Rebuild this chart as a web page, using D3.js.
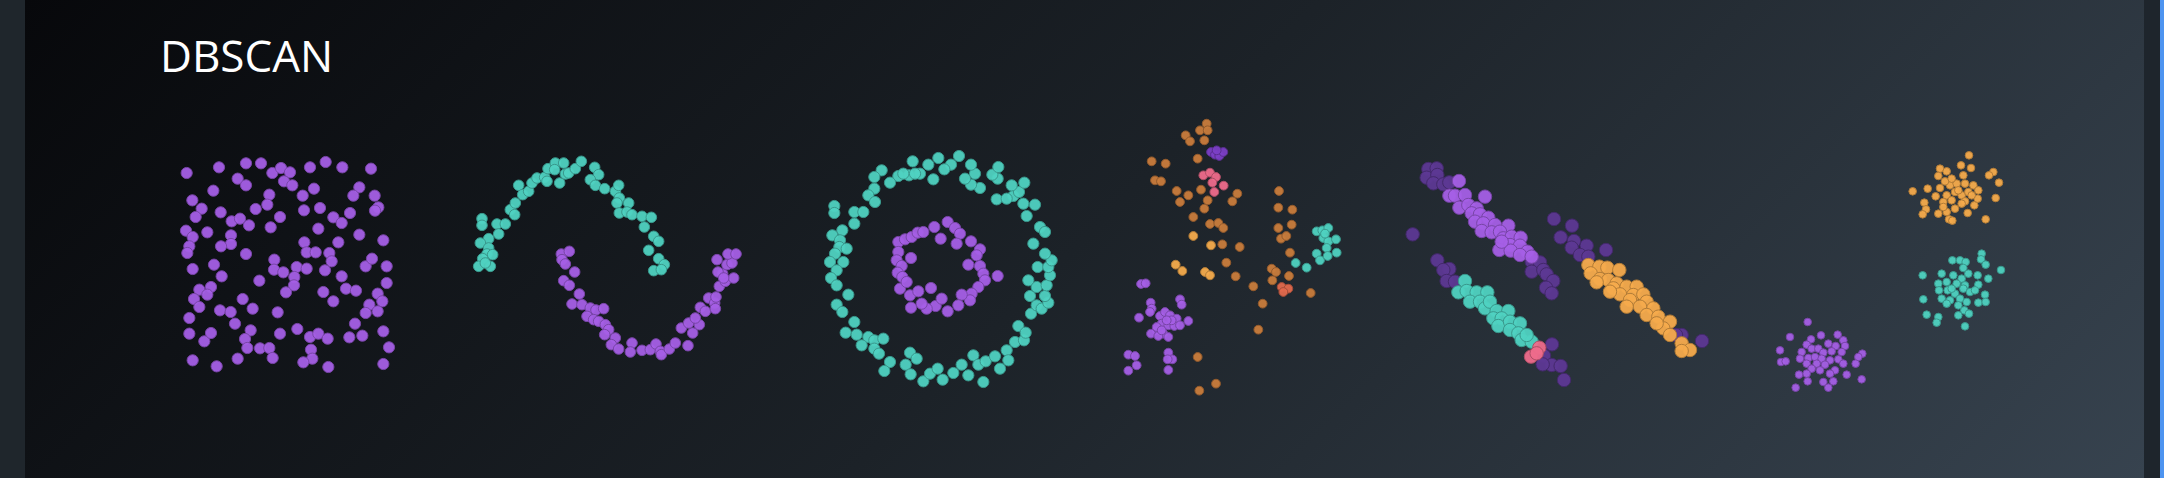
<!DOCTYPE html>
<html><head><meta charset="utf-8">
<script src="https://cdn.jsdelivr.net/npm/d3@7"></script>
<style>
html,body{margin:0;padding:0;background:#1f262c;}
#wrap{position:relative;width:2164px;height:478px;overflow:hidden;}
</style></head><body>
<div id="wrap"></div>
<script>
// ---- DATA (panel-local coordinates) ----
const title = "DBSCAN";

const uniformPurple = [[50,75],[147,58],[228,46],[273,46],[307,75],[333,60],[360,73],[342,100],[367,112],[420,58],[467,42],[517,58],[603,62],
[203,92],[228,112],[130,128],[298,140],[292,170],[257,183],[398,143],[432,122],[568,118],[550,143],[614,143],[625,178],[615,188],
[67,157],[95,182],[77,207],[152,193],[185,220],[210,212],[237,232],[302,238],[330,207],[402,187],[450,180],[490,208],[515,225],[540,195],[445,242],
[48,248],[68,267],[112,253],[183,262],[183,288],[153,295],[58,295],[52,315],[228,318],[403,283],[410,313],[437,313],[478,315],[485,340],[505,283],[568,260],[640,277],
[68,363],[132,350],[155,385],[268,398],[313,335],[312,365],[340,373],[380,357],[410,362],[373,387],[372,412],[348,433],[465,367],[515,385],[587,355],[606,332],[650,355],[650,405],
[88,425],[123,417],[112,440],[72,453],[88,477],[218,453],[248,482],[150,487],[182,492],[195,527],[323,493],[460,432],[490,460],[528,422],[558,428],[623,437],[637,460],[598,470],[587,495],[623,490],
[58,510],[58,557],[103,580],[123,555],[242,547],[225,573],[232,600],[270,601],[298,600],[308,630],[330,557],[382,543],[420,567],[445,557],[473,572],[423,605],[427,632],[400,643],[538,568],[577,563],[555,527],[640,550],[657,598],
[68,637],[140,655],[203,632],[475,657],[640,648]];

const moonsTeal = [[60,212],[60,232],[105,228],[130,228],[110,258],[80,272],[55,285],[80,300],[75,318],[92,320],[62,332],[50,355],[85,355],[70,345],
[145,185],[160,165],[158,200],[170,112],[182,140],[200,130],[210,105],[225,90],[248,88],[258,62],[280,45],[278,65],[305,45],[310,78],[320,75],[340,62],[358,40],[293,105],[255,100],
[398,58],[410,80],[385,95],[400,112],[428,122],[460,130],[470,112],[472,150],[465,165],[500,165],[472,195],[495,192],[510,200],[540,205],[568,208],[547,237],[575,265],[590,280],[560,307],[590,332],[607,350],[575,368],[598,365]];
const moonsPurple = [[298,318],[322,310],[300,335],[310,348],[338,372],[305,398],[322,412],[352,438],[330,468],[360,470],[385,480],[402,486],[425,482],[375,505],[395,515],[410,520],[430,530],[440,545],[428,560],[460,570],[448,590],[470,603],[510,585],[505,612],[540,607],[565,605],[582,588],[595,610],[598,620],[622,603],[640,585],[678,593],[658,540],[692,555],[680,525],[712,530],[700,510],[715,478],[730,490],[740,450],[758,465],[760,482],[762,447],[772,415],[790,400],[815,390],[782,378],[768,372],[765,335],[795,350],[810,345],[798,318],[822,318],[785,390]];

const circlesTeal = [[58,192],[58,213],[118,210],[145,210],[118,245],[82,265],[52,280],[75,295],[73,315],[95,320],[60,335],[45,360],[85,360],[65,385],[48,408],[65,430],[100,458],[65,488],[82,510],[118,540],[92,572],[125,578],[160,585],[140,610],[178,595],[205,590],[178,620],[192,635],[225,660],[208,687],[285,632],[305,650],[272,668],[287,697],[325,718],[345,695],[368,680],[383,713],[415,693],[440,668],[460,700],[475,640],[490,668],[505,720],[512,658],[540,643],[555,680],[575,625],[580,655],[600,600],[627,595],[610,552],[632,572],[648,515],[665,490],[645,462],[680,500],[700,482],[690,462],[665,435],[640,415],[695,430],[705,400],[668,375],[700,375],[710,355],[690,335],[655,305],[635,222],[675,255],[690,270],[660,188],[625,185],[595,162],[612,150],[628,122],[590,130],[545,172],[575,170],[548,110],[532,98],[550,75],[495,138],[468,128],[480,95],[468,68],[450,110],[432,42],[408,68],[388,82],[370,48],[340,68],[355,112],[315,95],[293,58],[282,100],[250,102],[225,122],[200,85],[178,105],[178,140],[160,160],[180,180],[265,95],[300,95]];
const circlesPurple = [[250,300],[270,292],[290,285],[308,272],[325,270],[358,255],[398,240],[420,258],[435,275],[377,290],[425,305],[468,298],[495,322],[485,340],[460,368],[495,372],[505,395],[510,415],[490,435],[470,455],[465,475],[440,458],[430,490],[398,508],[362,492],[335,500],[320,485],[288,497],[285,460],[310,448],[348,438],[380,470],[250,330],[245,355],[260,372],[248,392],[262,405],[255,440],[275,420],[288,348],[548,402]];

const variedBrown = [[275,35],[255,55],[278,55],[212,70],[225,88],[268,85],[248,140],[110,148],[152,155],[120,205],[138,208],[185,237],[220,250],[258,233],[195,270],[278,265],[268,290],[235,315],[285,336],[310,333],[325,348],[352,268],[367,245],[322,397],[374,405],[334,452],[362,493],[415,523],[443,575],[430,653],[248,735],[303,815],[253,836],[492,237],[490,287],[532,293],[490,348],[530,338],[498,380],[514,372],[525,422],[470,470],[483,480],[472,505],[522,492],[587,543]];
const variedGold = [[235,372],[288,400],[182,458],[202,477],[270,480],[285,490]];
const variedPink = [[265,190],[285,182],[303,195],[292,212],[326,221],[298,240]];
const variedViolet = [[288,120],[300,128],[313,132],[325,120],[305,115]];
const variedRed = [[500,525],[520,530],[505,540]];
const variedTeal = [[605,358],[622,355],[640,348],[625,378],[640,388],[663,382],[635,408],[605,425],[615,445],[638,432],[665,422],[542,453],[575,467],[630,365]];
const variedPurple = [[78,516],[92,514],[107,572],[110,590],[105,600],[72,617],[195,562],[200,578],[220,627],[135,612],[150,600],[165,610],[185,620],[140,635],[160,640],[178,642],[125,655],[108,665],[145,665],[160,675],[130,672],[195,640],[170,625],[155,625],[40,728],[60,732],[65,760],[40,776],[160,722],[172,742],[158,742],[160,774],[125,645],[140,655]];

const anisoNoise = [[85,42],[110,40],[80,68],[112,60],[100,85],[130,88],[148,82],[38,238],[462,192],[516,212],[482,247],[522,258],[560,272],[515,278],[540,300],[565,305],[618,285],[395,320],[420,322],[395,350],[430,345],[440,358],[460,378],[438,398],[455,415],[112,316],[148,342],[130,345],[140,378],[165,380],[456,568],[432,602],[455,630],[428,628],[482,633],[492,675],[845,540],[828,540],[906,558]];
const anisoPurple = [[177,78],[148,122],[165,122],[195,120],[255,125],[178,158],[205,150],[230,160],[215,175],[240,178],[265,188],[225,200],[250,205],[285,210],[325,212],[245,228],[275,232],[300,230],[310,250],[335,245],[362,248],[330,270],[360,272],[382,290],[298,285],[332,287],[360,300],[395,305],[305,260]];
const anisoTeal = [[195,378],[175,412],[200,408],[230,412],[262,412],[210,440],[240,440],[255,460],[270,440],[290,468],[325,468],[280,490],[305,490],[295,513],[330,500],[360,505],[330,525],[355,535],[365,555],[395,560],[380,540]];
const anisoPink = [[393,605],[418,578],[410,595]];
const anisoGold = [[565,330],[598,335],[622,338],[658,345],[572,355],[600,372],[625,375],[650,385],[590,382],[640,400],[680,395],[710,395],[660,418],[700,420],[730,418],[630,410],[690,435],[740,440],[720,455],[760,460],[740,480],[775,485],[810,500],[790,520],[810,540],[845,565],[870,585],[845,588],[770,505],[680,455]];

const blobsGold = [[612,40],[525,80],[545,88],[588,70],[618,78],[520,102],[595,100],[685,90],[672,100],[488,140],[443,148],[525,138],[555,130],[575,125],[540,118],[600,125],[625,130],[640,145],[570,150],[590,160],[545,160],[512,163],[535,180],[560,175],[600,178],[628,190],[638,170],[692,168],[702,122],[478,182],[483,202],[473,217],[520,215],[545,210],[552,232],[570,200],[608,213],[562,236],[662,232],[535,195],[580,145],[610,150],[560,110],[590,185],[620,160]];
const blobsTeal = [[650,335],[648,352],[662,368],[708,384],[562,355],[585,355],[602,360],[595,378],[610,395],[638,400],[670,410],[473,400],[530,395],[565,400],[590,410],[520,425],[545,420],[575,425],[600,430],[640,428],[522,445],[548,445],[570,455],[595,440],[615,450],[660,458],[475,472],[530,470],[555,475],[585,470],[605,480],[640,482],[662,480],[545,485],[580,490],[598,505],[612,515],[580,520],[485,518],[520,525],[515,542],[600,553],[630,445],[560,440]];
const blobsPurple = [[128,540],[75,585],[168,580],[218,578],[235,595],[138,592],[125,608],[190,605],[212,612],[240,612],[45,625],[110,630],[140,620],[160,620],[175,632],[200,628],[230,630],[292,635],[280,645],[105,650],[130,648],[150,645],[170,650],[195,655],[220,652],[48,660],[62,658],[125,665],[155,665],[180,668],[235,665],[272,665],[140,680],[165,685],[210,685],[195,695],[102,698],[125,695],[245,698],[290,712],[128,718],[175,720],[205,718],[92,737],[190,737]];

// ---- STYLE / LAYOUT ----
const C = {
  purple:"#a55fe6", teal:"#4fd2c1", gold:"#f5ab4c", brown:"#c97c3c",
  pink:"#ee6b8b", violet:"#7b3fc6", red:"#e2694d", noise:"#5d3893"
};
const panels = [
  {x0:170, y0:148, r:5.6, series:[[uniformPurple,C.purple]]},
  {x0:462, y0:148, r:5.3, series:[[moonsTeal,C.teal],[moonsPurple,C.purple]]},
  {x0:815, y0:142, r:5.6, series:[[circlesTeal,C.teal],[circlesPurple,C.purple]]},
  {x0:1115,y0:112, r:4.4, series:[[variedBrown,C.brown],[variedGold,C.gold],[variedPink,C.pink],[variedViolet,C.violet],[variedRed,C.red],[variedTeal,C.teal],[variedPurple,C.purple]]},
  {x0:1400,y0:155, r:6.7, series:[[anisoNoise,C.noise],[anisoPurple,C.purple],[anisoTeal,C.teal],[anisoPink,C.pink],[anisoGold,C.gold]]},
  {x0:1765,y0:142, r:3.8, series:[[blobsGold,C.gold],[blobsTeal,C.teal],[blobsPurple,C.purple]]}
];

const W = 2164, H = 478;
const svg = d3.select("#wrap").append("svg").attr("width", W).attr("height", H);
const defs = svg.append("defs");
// emulate a CSS 135deg gradient over the card
const cx0 = 25, cx1 = 2144;
const cw = cx1 - cx0, cxm = (cx0 + cx1) / 2, cym = H / 2;
const L = (cw + H) * Math.SQRT1_2, d = L / 2 * Math.SQRT1_2;
const g = defs.append("linearGradient").attr("id","bg").attr("gradientUnits","userSpaceOnUse")
  .attr("x1", cxm - d).attr("y1", cym - d).attr("x2", cxm + d).attr("y2", cym + d);
[[0,"#07080b"],[0.5,"#1c2228"],[1,"#37434f"]].forEach(([o,c]) =>
  g.append("stop").attr("offset", o).attr("stop-color", c));

svg.append("rect").attr("width", W).attr("height", H).attr("fill", "#1f262c");
svg.append("rect").attr("x", cx0).attr("y", 0).attr("width", cw).attr("height", H).attr("fill", "url(#bg)");
svg.append("rect").attr("x", cx1).attr("y", 0).attr("width", 16).attr("height", H).attr("fill", "#1e252c");
svg.append("rect").attr("x", 2160).attr("y", 0).attr("width", 4).attr("height", H).attr("fill", "#4d94f0");

svg.append("text").attr("x", 160).attr("y", 72)
  .attr("font-family", "'Open Sans','Noto Sans',sans-serif").attr("font-size", 44)
  .attr("fill", "#ffffff").text(title);

panels.forEach(p => {
  const x = d3.scaleLinear().domain([0, 300]).range([p.x0, p.x0 + 100]);
  const y = d3.scaleLinear().domain([0, 300]).range([p.y0, p.y0 + 100]);
  const gp = svg.append("g");
  p.series.forEach(([pts, col]) => {
    gp.append("g").selectAll("circle").data(pts).join("circle")
      .attr("cx", d => x(d[0])).attr("cy", d => y(d[1])).attr("r", p.r)
      .attr("fill", col).attr("fill-opacity", 0.95)
      .attr("stroke", d3.color(col).darker(0.9)).attr("stroke-width", 1);
  });
});
</script>
</body></html>
